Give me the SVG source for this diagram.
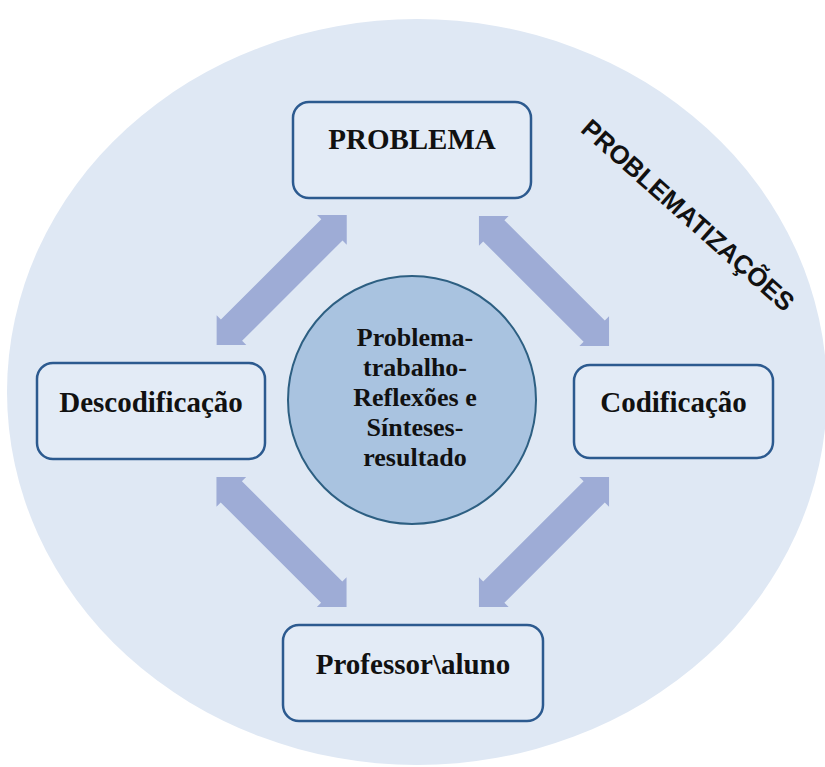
<svg xmlns="http://www.w3.org/2000/svg" xmlns:xlink="http://www.w3.org/1999/xlink" width="825" height="767" viewBox="0 0 825 767">
  <style>
    .box { fill: #e3ebf6; stroke: #2c5a8f; stroke-width: 2.5; }
    .lbl { font-family: "Liberation Serif", "Times New Roman", serif; font-weight: bold; font-size: 29px; fill: #111; text-anchor: middle; }
    .ctr { font-family: "Liberation Serif", "Times New Roman", serif; font-weight: bold; font-size: 26px; fill: #111; text-anchor: middle; }
    .arrow { fill: #9eacd6; }
  </style>
  <defs>
    <path id="dblArrow" d="M -92 0 L -71 -21 L -71 -15 L 71 -15 L 71 -21 L 92 0 L 71 21 L 71 15 L -71 15 L -71 21 Z"/>
  </defs>
  <rect x="0" y="0" width="825" height="767" fill="#ffffff"/>
  <ellipse id="background" cx="417" cy="392" rx="410" ry="373" fill="#dfe8f4"/>
  <text x="682" y="222" transform="rotate(41.6 682 222)" font-family="'Liberation Sans', Arial, sans-serif" font-weight="bold" font-size="26" fill="#111" text-anchor="middle" textLength="274" lengthAdjust="spacingAndGlyphs">PROBLEMATIZAÇÕES</text>

  <g id="connectors">
    <use xlink:href="#dblArrow" class="arrow" transform="translate(281.7 280) rotate(-45)"/>
    <use xlink:href="#dblArrow" class="arrow" transform="translate(544 281) rotate(45)"/>
    <use xlink:href="#dblArrow" class="arrow" transform="translate(281.5 542) rotate(45)"/>
    <use xlink:href="#dblArrow" class="arrow" transform="translate(544 542) rotate(-45)"/>
  </g>

  <g id="node-problema">
    <rect class="box" x="293" y="102" width="238" height="96" rx="16"/>
    <text class="lbl" x="412" y="149">PROBLEMA</text>
  </g>
  <g id="node-descodificacao">
    <rect class="box" x="37" y="363" width="228" height="96" rx="16"/>
    <text class="lbl" x="151" y="412">Descodificação</text>
  </g>
  <g id="node-codificacao">
    <rect class="box" x="574" y="365" width="199" height="93" rx="16"/>
    <text class="lbl" x="673.5" y="412">Codificação</text>
  </g>
  <g id="node-professor">
    <rect class="box" x="283" y="625" width="260" height="96" rx="16"/>
    <text class="lbl" x="413" y="674">Professor\aluno</text>
  </g>
  <g id="node-centro">
    <circle cx="412" cy="400" r="124" fill="#a9c3e0" stroke="#2d5f82" stroke-width="2"/>
    <text class="ctr" x="415" y="346">Problema-</text>
    <text class="ctr" x="415" y="376">trabalho-</text>
    <text class="ctr" x="415" y="406">Reflexões e</text>
    <text class="ctr" x="415" y="436">Sínteses-</text>
    <text class="ctr" x="415" y="466">resultado</text>
  </g>
</svg>
